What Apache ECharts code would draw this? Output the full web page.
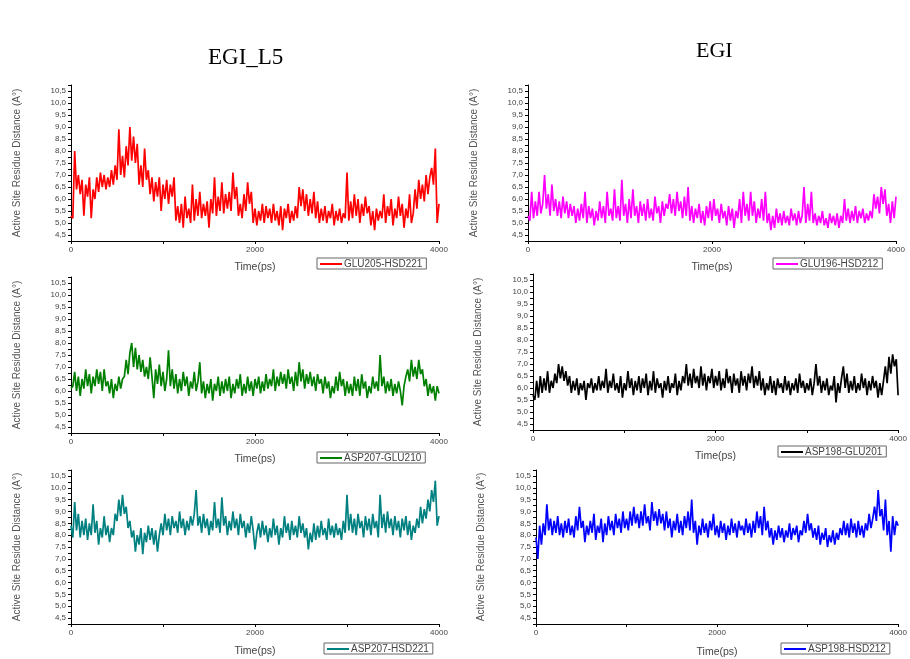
<!DOCTYPE html>
<html>
<head>
<meta charset="utf-8">
<script src="https://cdn.jsdelivr.net/npm/echarts@6/dist/echarts.min.js"></script>
<style>html,body{margin:0;padding:0;background:#fff}#c{width:910px;height:659px}</style>
</head>
<body>
<div id="c"></div>
<script>
// ---- data (distance in Å, sampled every 20 ps from 0 to 4000 ps) ----
const TIME_STEP = 20;
const xTicks = [0, 2000, 4000];
const yTicks = [4.5,5.0,5.5,6.0,6.5,7.0,7.5,8.0,8.5,9.0,9.5,10.0,10.5];
const panelTitles = ["EGI_L5", "EGI"];
const seriesNames = ["GLU205-HSD221","GLU196-HSD212","ASP207-GLU210","ASP198-GLU201","ASP207-HSD221","ASP198-HSD212"];

const glu205_hsd221 = [
5.3,5.2,8.0,6.4,7.0,6.2,6.8,5.3,6.6,6.1,
6.9,5.2,6.4,6.0,6.9,6.3,7.1,6.5,7.0,6.4,
6.9,6.5,7.2,6.6,7.4,6.8,8.9,7.0,7.8,6.9,
8.2,7.4,9.0,7.6,8.6,7.5,8.3,6.6,7.4,6.5,
8.1,6.8,7.2,6.2,6.9,5.9,6.7,6.1,6.9,5.5,
6.6,6.0,6.8,5.8,6.6,6.1,6.9,5.1,5.7,5.0,
5.8,4.8,6.1,5.2,5.6,5.0,6.6,5.1,6.0,5.3,
6.3,5.2,5.8,5.3,5.9,4.8,6.0,5.4,6.9,5.3,
6.1,5.5,6.7,5.4,6.2,5.6,6.3,5.5,7.1,6.0,
6.5,5.3,5.8,5.2,6.2,5.5,6.7,5.8,6.3,5.0,
5.6,4.9,5.5,5.1,5.8,5.0,5.7,5.2,5.6,5.0,
5.8,5.1,5.5,4.9,5.7,4.7,5.6,5.2,5.8,5.0,
5.5,5.1,5.7,5.2,6.5,5.7,6.4,5.5,6.2,5.3,
6.0,5.4,6.3,5.2,5.9,5.0,5.6,5.1,5.7,5.0,
5.5,5.2,5.8,4.9,5.5,5.1,5.6,5.0,5.4,5.2,
7.1,5.1,5.9,5.2,6.2,5.3,6.0,5.0,5.8,5.3,
6.1,5.4,5.7,4.9,5.5,4.7,5.6,5.1,5.5,5.2,
6.2,5.0,5.7,5.3,6.0,4.9,5.6,5.2,6.1,5.3,
5.8,4.8,5.6,5.2,6.2,5.0,5.4,6.4,5.6,6.8,
6.0,6.6,5.9,7.0,6.2,6.9,7.3,6.6,8.1,5.0,
5.8];

const glu196_hsd212 = [
5.3,5.1,6.3,5.2,5.9,5.3,6.3,5.4,5.8,7.0,
5.6,6.2,5.3,6.6,5.5,6.0,5.3,5.9,5.2,6.1,
5.4,5.9,5.2,5.8,5.3,5.7,5.0,5.6,5.1,5.8,
5.2,6.3,5.0,5.7,5.2,5.6,4.9,5.5,5.1,5.9,
5.2,5.7,5.0,6.3,5.3,5.6,5.1,6.4,5.2,5.7,
5.1,6.8,5.3,5.8,5.0,6.0,5.2,6.4,5.3,5.7,
5.0,5.9,5.3,5.8,5.1,6.0,5.2,5.6,5.1,6.1,
5.4,5.7,5.0,5.9,5.3,5.8,5.6,6.2,5.4,6.0,
5.3,6.3,5.5,5.9,5.2,6.1,5.3,6.5,5.1,5.7,
5.0,5.6,5.2,5.8,5.0,5.5,4.9,5.7,5.2,5.9,
5.1,6.0,5.3,5.6,5.0,5.8,5.2,5.5,4.9,5.7,
5.1,5.6,4.8,5.5,5.2,6.0,5.0,6.3,5.3,5.8,
5.1,6.3,5.3,5.9,5.0,5.6,5.2,6.0,5.1,6.3,
5.0,5.4,4.7,5.3,4.8,5.6,5.0,5.4,4.9,5.5,
5.0,5.3,4.9,5.6,5.1,5.4,4.9,5.5,5.0,5.3,
6.5,5.0,5.8,5.1,6.3,5.0,5.4,4.9,5.3,5.0,
5.5,4.9,5.2,4.8,5.4,5.0,5.3,4.9,5.4,4.8,
5.3,5.0,6.0,5.1,5.6,5.0,5.5,5.1,5.7,5.0,
5.5,5.2,5.6,5.0,5.4,5.1,5.5,5.2,6.2,5.6,
6.1,5.4,6.5,5.8,6.4,5.3,5.8,5.0,5.9,5.2,
6.1];

const asp207_glu210 = [
6.1,6.2,6.8,6.0,6.6,5.8,6.5,6.1,6.9,6.2,
6.7,5.9,6.6,6.2,6.9,6.3,6.8,6.0,6.9,6.2,
6.4,5.9,6.5,5.7,6.3,6.0,6.6,6.1,6.5,6.6,
7.3,6.7,7.6,8.0,7.0,7.8,6.9,7.5,6.8,7.3,
6.6,7.0,6.5,7.4,6.6,5.7,6.9,6.3,7.1,6.2,
6.8,6.0,6.5,7.7,6.2,6.9,6.1,6.7,5.9,6.5,
6.0,6.8,6.2,6.6,5.8,6.4,6.1,6.8,6.0,6.4,
7.2,5.9,6.4,5.7,6.3,5.9,6.5,5.6,6.3,6.0,
6.6,5.8,6.4,5.9,6.5,6.0,6.6,5.7,6.3,5.9,
6.5,6.1,6.7,5.8,6.3,5.9,6.6,6.0,6.4,5.8,
6.5,6.1,6.6,5.9,6.4,6.0,6.7,6.1,6.5,6.2,
6.9,6.0,6.6,6.2,6.8,6.3,6.7,6.1,6.9,6.3,
6.6,6.0,6.8,6.2,7.2,6.4,6.9,6.1,6.7,6.3,
6.8,6.2,6.6,6.0,6.7,6.3,6.5,5.9,6.6,6.1,
6.4,5.7,6.2,5.9,6.6,6.0,6.8,6.2,6.5,5.8,
6.4,5.9,6.3,5.8,6.6,6.0,6.5,5.8,6.7,6.1,
6.4,5.7,6.2,5.9,6.6,6.1,6.4,6.0,7.5,6.2,
6.6,5.9,6.4,6.0,6.5,5.8,6.3,5.9,6.4,6.0,
5.4,6.2,6.6,6.9,6.4,7.3,6.6,7.0,6.5,7.3,
6.7,6.9,6.2,6.5,5.8,6.3,5.9,6.2,5.6,6.2,
5.9];

const asp198_glu201 = [
5.7,5.5,6.3,5.6,6.5,5.8,6.4,5.9,6.7,5.8,
6.3,6.0,6.6,6.2,7.0,6.4,6.9,6.3,6.7,6.1,
6.5,5.8,6.3,5.9,6.4,5.7,6.2,5.9,6.3,5.5,
6.2,6.0,6.4,5.8,6.2,5.9,6.5,5.9,6.3,6.0,
6.8,5.8,6.3,6.0,6.6,5.9,6.2,5.8,6.5,5.6,
6.2,5.9,6.7,6.0,6.4,5.7,6.3,5.9,6.5,5.8,
6.4,6.0,6.6,5.7,6.3,5.9,6.7,5.8,6.4,6.0,
6.2,5.6,6.3,5.9,6.5,5.8,6.2,6.0,6.6,5.7,
6.3,5.9,6.5,6.2,7.0,6.1,6.6,6.0,6.8,6.2,
6.5,6.0,6.9,6.1,6.6,5.9,6.5,6.2,6.8,6.0,
6.5,6.1,6.7,5.9,6.4,6.0,6.8,6.2,6.5,5.8,
6.6,6.1,6.4,5.8,6.7,6.1,6.5,5.9,6.6,6.2,
6.9,6.0,6.5,6.1,6.7,5.9,6.4,5.7,6.2,5.9,
6.5,5.8,6.3,5.7,6.4,6.0,6.2,5.8,6.5,5.9,
6.3,5.7,6.2,5.9,6.4,5.8,6.6,6.0,6.3,5.8,
6.2,5.9,6.4,5.7,6.2,7.0,6.1,6.5,5.8,6.3,
5.9,6.4,5.7,6.1,5.9,6.5,5.4,6.2,5.8,6.4,
6.9,6.0,6.6,5.8,6.3,5.9,6.5,5.8,6.2,5.9,
6.6,6.0,6.4,5.7,6.3,5.9,6.5,6.0,6.3,5.6,
6.2,5.7,6.3,6.9,6.2,7.3,6.6,7.4,6.9,7.2,
5.7];

const asp207_hsd221 = [
8.4,7.9,9.4,8.2,8.9,7.9,8.6,8.0,8.7,7.8,
8.5,8.0,9.3,8.1,8.6,7.6,8.3,7.9,8.8,8.0,
8.4,7.7,8.3,8.0,8.9,8.6,9.5,8.8,9.7,8.9,
9.2,8.3,8.6,7.9,8.2,7.3,8.0,7.6,8.3,7.2,
8.1,7.7,8.4,7.8,8.3,7.6,8.2,7.3,8.0,8.5,
8.0,8.9,8.2,8.7,8.0,8.8,8.3,8.6,8.1,9.0,
8.3,8.7,8.0,8.6,8.2,8.8,8.4,8.9,9.9,8.4,
8.8,8.1,8.9,8.3,8.7,8.0,8.6,8.2,9.4,8.3,
8.7,8.1,9.6,8.4,8.8,8.0,8.6,8.2,9.0,8.3,
8.7,8.0,8.9,8.3,8.6,7.9,8.5,8.1,8.8,8.2,
7.4,8.1,8.5,7.9,8.6,8.0,8.4,7.7,8.3,7.9,
8.7,8.0,8.4,7.6,8.3,7.9,8.8,8.1,8.5,7.8,
8.6,8.0,8.4,7.9,8.8,8.1,8.5,7.9,8.3,7.4,
8.1,7.7,8.5,7.8,8.4,7.9,8.6,8.0,8.3,7.8,
8.7,8.0,8.4,7.9,8.5,8.0,8.3,7.8,8.6,8.1,
9.7,8.2,8.9,8.1,8.7,8.0,8.9,8.3,8.6,7.9,
8.8,8.2,8.7,8.0,8.9,8.3,8.6,7.9,9.7,8.3,
8.9,8.1,9.0,8.3,8.7,8.0,8.8,8.2,8.6,7.9,
8.7,8.2,8.8,8.0,8.6,7.8,8.4,8.1,8.7,8.3,
9.2,8.5,9.1,8.7,9.5,9.0,9.9,9.4,10.3,8.4,
8.8];

const asp198_hsd212 = [
7.9,7.0,8.4,7.6,8.5,8.0,9.3,8.2,8.7,8.0,
8.6,8.1,8.8,8.0,8.5,7.9,8.6,8.1,8.7,8.0,
8.4,7.9,8.8,8.2,9.2,8.3,8.6,7.7,8.4,8.0,
8.6,8.1,8.9,7.8,8.4,8.1,8.7,7.7,8.5,8.0,
8.8,8.2,8.6,8.0,8.9,8.3,8.7,8.1,9.0,8.3,
8.7,8.2,9.0,8.4,9.2,8.5,8.9,8.3,9.0,8.4,
9.3,8.5,8.8,8.2,9.4,8.6,9.0,8.4,9.1,8.5,
8.9,8.2,9.0,8.3,8.7,7.9,8.6,8.2,8.9,8.1,
8.6,8.0,8.8,8.3,9.0,8.2,9.5,8.1,8.6,7.6,
8.4,8.0,8.7,8.1,8.5,7.9,8.6,8.2,8.9,8.0,
8.4,7.9,8.6,8.1,8.5,7.8,8.4,8.0,8.7,8.1,
8.5,7.9,8.6,8.2,8.4,8.0,8.7,8.1,8.5,7.9,
8.6,8.1,9.0,8.3,8.8,8.0,9.2,8.2,8.6,7.9,
8.3,7.6,8.2,7.8,8.4,7.9,8.3,7.7,8.2,7.9,
8.5,7.8,8.3,8.0,8.4,7.7,8.2,8.0,8.6,8.1,
8.9,8.2,8.5,7.9,8.3,7.8,8.4,7.6,8.1,7.8,
8.3,7.5,8.0,7.7,8.2,7.6,8.1,7.8,8.3,8.0,
8.6,8.0,8.5,7.9,8.7,8.1,8.5,7.9,8.6,8.0,
8.4,7.9,8.5,8.2,8.9,8.3,8.7,9.2,8.6,9.9,
8.8,9.1,8.2,9.5,8.0,8.6,7.3,8.8,8.0,8.6,
8.4];

const seriesValues = [glu205_hsd221, glu196_hsd212, asp207_glu210, asp198_glu201, asp207_hsd221, asp198_hsd212];
const seriesColors = ["#ff0000", "#ff00ff", "#008000", "#000000", "#008080", "#0000ff"];

// ---- layout ----
const grids = [
  {left: 71,  top: 85,  width: 368, height: 156},
  {left: 528, top: 85,  width: 368, height: 156},
  {left: 71,  top: 277, width: 368, height: 156},
  {left: 533, top: 274, width: 367, height: 156},
  {left: 71,  top: 470, width: 368, height: 154},
  {left: 536, top: 470, width: 367, height: 154}
];
const legendPos = [
  {left: 317, top: 258}, {left: 773, top: 258},
  {left: 317, top: 452}, {left: 778, top: 446},
  {left: 324, top: 643}, {left: 781, top: 643}
];
const yNameGap = [49, 49, 49, 50, 49, 50];
const xNameGap = [21, 21, 21, 21, 22, 23];

const fontSans = 'Arial, "Liberation Sans", sans-serif';
const option = {
  animation: false,
  backgroundColor: '#ffffff',
  grid: grids.map(g => Object.assign({containLabel: false}, g)),
  xAxis: grids.map((g, i) => ({
    type: 'value', gridIndex: i, min: 0, max: 4000, interval: 1000,
    name: 'Time(ps)', nameLocation: 'middle', nameGap: xNameGap[i],
    nameTextStyle: {fontFamily: fontSans, fontSize: 10.5, color: '#444'},
    axisLine: {show: true, onZero: false, lineStyle: {color: '#000', width: 1}},
    axisTick: {show: true, inside: false, length: 3, lineStyle: {color: '#000'}},
    axisLabel: {show: true, margin: 5, fontFamily: fontSans, fontSize: 8, color: '#444',
      formatter: v => xTicks.indexOf(v) >= 0 ? String(v) : ''},
    splitLine: {show: false}
  })),
  yAxis: grids.map((g, i) => ({
    type: 'value', gridIndex: i, min: 4.25, max: 10.75, interval: 0.25,
    name: 'Active Site Residue Distance (A°)', nameLocation: 'middle', nameGap: yNameGap[i], nameRotate: 90,
    nameTextStyle: {fontFamily: fontSans, fontSize: 10, color: '#555'},
    axisLine: {show: true, onZero: false, lineStyle: {color: '#000', width: 1}},
    axisTick: {show: true, inside: false, length: 3, lineStyle: {color: '#000'}},
    axisLabel: {show: true, margin: 5, fontFamily: fontSans, fontSize: 8, color: '#444',
      formatter: v => {
        const hit = yTicks.find(t => Math.abs(t - v) < 1e-6);
        return hit === undefined ? '' : hit.toFixed(1).replace('.', ',');
      }},
    splitLine: {show: false}
  })),
  legend: seriesNames.map((n, i) => ({
    data: [n], left: legendPos[i].left, top: legendPos[i].top,
    orient: 'horizontal', icon: 'rect', itemWidth: 22, itemHeight: 2, itemGap: 2,
    padding: [1, 4, 0, 3], borderColor: '#666', borderWidth: 1, backgroundColor: '#fff',
    textStyle: {fontFamily: fontSans, fontSize: 10, color: '#444', padding: [0, 0, 0, -3]}
  })),
  series: seriesNames.map((n, i) => ({
    name: n, type: 'line', xAxisIndex: i, yAxisIndex: i,
    showSymbol: false, symbol: 'none', sampling: null,
    lineStyle: {color: seriesColors[i], width: 1.7}, itemStyle: {color: seriesColors[i]},
    data: seriesValues[i].map((v, k) => [k * TIME_STEP, v])
  })),
  graphic: [
    {type: 'text', left: 248 - 40, top: 46, style: {text: panelTitles[0], fontFamily: '"Liberation Serif", "Times New Roman", serif', fontSize: 23, fill: '#000', width: 80, align: 'center'}},
    {type: 'text', left: 716 - 20, top: 40, style: {text: panelTitles[1], fontFamily: '"Liberation Serif", "Times New Roman", serif', fontSize: 22, fill: '#000', width: 40, align: 'center'}}
  ]
};
const chart = echarts.init(document.getElementById('c'), null, {renderer: 'canvas'});
chart.setOption(option);
</script>
</body>
</html>
